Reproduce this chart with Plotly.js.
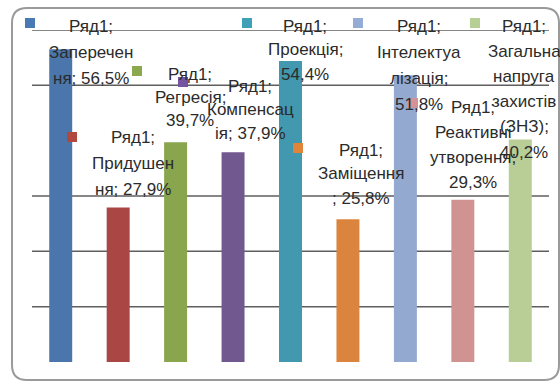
<!DOCTYPE html>
<html>
<head>
<meta charset="utf-8">
<script src="https://cdn.plot.ly/plotly-3.0.1.min.js"></script>
<style>html,body{margin:0;padding:0;background:#fff}#chart{width:560px;height:382px}</style>
</head>
<body>
<div id="chart"></div>
<script>
// ---- data ----
const categories = ["Заперечення","Придушення","Регресія","Компенсація","Проекція","Заміщення","Інтелектуалізація","Реактивні утворення","Загальна напруга захистів (ЗНЗ)"];
const values = [56.5, 27.9, 39.7, 37.9, 54.4, 25.8, 51.8, 29.3, 40.2];
const seriesName = "Ряд1";
const labelLines = [
  ["Ряд1;", "Заперечен", "ня; 56,5%"],
  ["Ряд1;", "Придушен", "ня; 27,9%"],
  ["Ряд1;", "Регресія;", "39,7%"],
  ["Ряд1;", "Компенсац", "ія; 37,9%"],
  ["Ряд1;", "Проекція;", "54,4%"],
  ["Ряд1;", "Заміщення", "; 25,8%"],
  ["Ряд1;", "Інтелектуа", "лізація;", "51,8%"],
  ["Ряд1;", "Реактивні", "утворення;", "29,3%"],
  ["Ряд1;", "Загальна", "напруга", "захистів", "(ЗНЗ);", "40,2%"]
];
const gridTicks = [10, 20, 30, 50, 60];

// ---- styling ----
const barColors = ["#4a76ab","#aa4744","#89a54e","#71588f","#4198af","#db843d","#93a9cf","#d19392","#b9cd96"];
const keyColors = ["#4a7ab4","#b0483f","#8aa84e","#7456a0","#40a0b8","#e0843a","#94acd6","#d49294","#b6cf94"];

const W = 560, H = 382;
const M = {l: 32, r: 11, t: 30, b: 20};
const PW = W - M.l - M.r, PH = H - M.t - M.b;
const X = px => (px - M.l) / PW;
const Y = py => (H - M.b - py) / PH;

// label layout (pixel anchor of first line, line step)
const labelPos = [
  [91, 26, 26], [133, 137, 26], [190, 74, 23.5], [250, 86, 23.5], [305, 26, 24],
  [361, 150, 24], [419, 26, 26], [473, 107, 25], [524, 26, 25.2]
];
// legend key squares (pixel centres)
const keyPos = [[30,23],[72,137],[137,71],[183,82],[247,23],[298,148],[358,23],[413,103],[475,23]];

const trace = {
  type: "bar",
  name: seriesName,
  x: categories,
  y: values,
  width: 0.4,
  marker: {color: barColors, line: {width: 0}},
  hoverinfo: "x+y"
};

const annotations = [];
labelLines.forEach((lines, i) => {
  const [cx, y0, dy] = labelPos[i];
  lines.forEach((t, j) => {
    annotations.push({
      text: t, xref: "paper", yref: "paper", x: X(cx), y: Y(y0 + j * dy),
      xanchor: "center", yanchor: "middle", showarrow: false,
      font: {family: "Liberation Sans, Arial, sans-serif", size: 17, color: "#2b2b2b"}
    });
  });
});

const shapes = [];
// gridlines (drawn behind bars)
gridTicks.forEach(v => {
  shapes.push({type: "line", xref: "paper", yref: "y", x0: 0, x1: 1, y0: v, y1: v,
    line: {color: "#5e5e5e", width: 1.5}, layer: "below"});
});
keyPos.forEach((p, i) => {
  shapes.push({type: "rect", xref: "paper", yref: "paper",
    x0: X(p[0] - 5), x1: X(p[0] + 5), y0: Y(p[1] + 5), y1: Y(p[1] - 5),
    fillcolor: keyColors[i], line: {width: 0}, layer: "above"});
});
// rounded chart border
const bx0 = 12, by0 = 8, bx1 = 559, by1 = 380, r = 15;
const path = `M ${X(bx0 + r)},${Y(by0)} L ${X(bx1 - r)},${Y(by0)} Q ${X(bx1)},${Y(by0)} ${X(bx1)},${Y(by0 + r)} ` +
  `L ${X(bx1)},${Y(by1 - r)} Q ${X(bx1)},${Y(by1)} ${X(bx1 - r)},${Y(by1)} ` +
  `L ${X(bx0 + r)},${Y(by1)} Q ${X(bx0)},${Y(by1)} ${X(bx0)},${Y(by1 - r)} ` +
  `L ${X(bx0)},${Y(by0 + r)} Q ${X(bx0)},${Y(by0)} ${X(bx0 + r)},${Y(by0)} Z`;
shapes.push({type: "path", xref: "paper", yref: "paper", path: path,
  line: {color: "#9a9a9a", width: 2}, layer: "below"});

const layout = {
  width: W, height: H,
  margin: M,
  paper_bgcolor: "#ffffff", plot_bgcolor: "rgba(0,0,0,0)",
  showlegend: false,
  bargap: 0.6,
  xaxis: {type: "category", range: [-0.5, 8.5], showticklabels: false, showgrid: false,
          zeroline: false, showline: false, ticks: ""},
  yaxis: {range: [0, 60], showticklabels: false, showgrid: false,
          zeroline: false, showline: false, ticks: ""},
  annotations: annotations,
  shapes: shapes,
  font: {family: "Liberation Sans, Arial, sans-serif"}
};

Plotly.newPlot("chart", [trace], layout, {staticPlot: true, displayModeBar: false});
</script>
</body>
</html>
